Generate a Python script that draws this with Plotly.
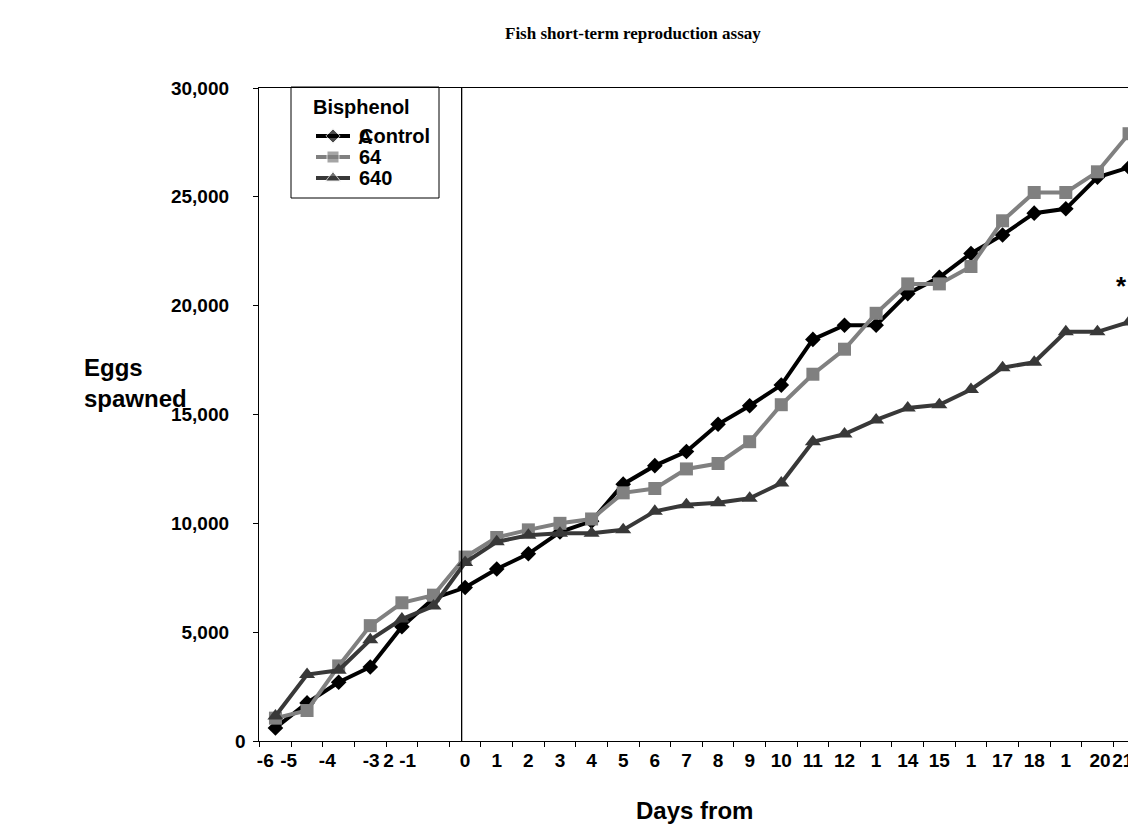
import plotly.graph_objects as go

# days of the assay (pre-exposure -6..-1, exposure 0..21)
DAYS = list(range(-6, 22))
TICK_TEXT = ['-6', '-5', '-4', '-3', '2', '-1',
             '0', '1', '2', '3', '4', '5', '6', '7', '8', '9', '10',
             '11', '12', '1', '14', '15', '1', '17', '18', '1', '20', '21']

CONTROL = [600, 1750, 2700, 3400, 5250, 6550,
           7050, 7900, 8600, 9600, 10100, 11800, 12650, 13300, 14550, 15400,
           16350, 18450, 19100, 19100, 20550, 21300, 22400, 23250, 24250,
           24450, 25900, 26350]
BPA_64 = [1050, 1400, 3450, 5300, 6350, 6700,
          8450, 9350, 9700, 10000, 10200, 11400, 11600, 12500, 12750, 13750,
          15450, 16850, 18000, 19650, 21000, 21000, 21800, 23900, 25200,
          25200, 26150, 27900]
BPA_640 = [1150, 3050, 3250, 4650, 5600, 6200,
           8200, 9150, 9450, 9550, 9550, 9700, 10550, 10850, 10950, 11150,
           11850, 13750, 14100, 14750, 15300, 15450, 16150, 17150, 17400,
           18800, 18800, 19250]

SERIES = [('Control', CONTROL, '#000000', 'diamond', 12),
          ('64', BPA_64, '#808080', 'square', 13),
          ('640', BPA_640, '#383838', 'triangle-up', 14)]

# small label shifts so pre-exposure labels sit like in the original
LABEL_SHIFT = [-0.32, -0.58, -0.36, 0.03, -0.42, -0.82] + [0] * 20 + [0.08, -0.2]

FONT = 'Liberation Sans, Arial, sans-serif'

# plot area in page pixels, used to place the hand-made legend
PL, PR, PT, PB = 259, 1136, 88, 741


def px(x):
    return (x - PL) / (PR - PL)


def py(y):
    return (PB - y) / (PB - PT)


x_idx = list(range(len(DAYS)))

fig = go.Figure()
for name, vals, color, sym, size in SERIES:
    fig.add_trace(go.Scatter(x=x_idx, y=vals, name=name, mode='lines+markers',
                             line=dict(color=color, width=4),
                             marker=dict(symbol=sym, size=size, color=color),
                             showlegend=False))

# legend drawn by hand so its rows are as tight as the original
fig.add_shape(type='rect', xref='paper', yref='paper',
              x0=px(291), x1=px(439), y0=py(198), y1=py(87),
              line=dict(color='black', width=1), fillcolor='white', layer='below')
for k, (name, vals, color, sym, size) in enumerate(SERIES):
    yy = py(136 + 21 * k)
    fig.add_trace(go.Scatter(x=[px(316), px(333), px(350)], y=[yy] * 3,
                             xaxis='x2', yaxis='y2', mode='lines+markers',
                             line=dict(color=color, width=4),
                             marker=dict(symbol=sym, size=[0, size - 1, 0], color=color),
                             showlegend=False, hoverinfo='skip', cliponaxis=False))
    fig.add_annotation(xref='paper', yref='paper', x=px(357), y=yy, text=name,
                       xanchor='left', yanchor='middle', showarrow=False,
                       font=dict(size=20, weight='bold'))

fig.add_shape(type='line', xref='x', yref='paper', x0=5.89, x1=5.89, y0=0, y1=1,
              line=dict(color='black', width=1.3))

# page body has an 8px margin, so the figure is a bit smaller than the window
fig.update_layout(
    width=1128, height=821,
    margin=dict(l=251, r=0, t=80, b=88),
    plot_bgcolor='white', paper_bgcolor='white',
    font=dict(family=FONT, color='black'),
    title=dict(text='<b>Fish short-term reproduction assay</b>',
               font=dict(family='Liberation Serif, Times New Roman, serif', size=17),
               x=0.554, xref='container', y=1 - 25 / 821, yref='container',
               xanchor='center', yanchor='middle'),
    xaxis2=dict(overlaying='x', range=[0, 1], visible=False),
    yaxis2=dict(overlaying='y', range=[0, 1], visible=False),
)

fig.layout.xaxis.update(range=[-0.52, 27.22], showgrid=False, zeroline=False,
                        showline=True, linecolor='black', linewidth=1.3, mirror=True,
                        tickvals=[i + s for i, s in zip(x_idx, LABEL_SHIFT)],
                        ticktext=TICK_TEXT, ticks='', tickangle=0,
                        ticklabeloverflow='allow', ticklabelstandoff=2,
                        tickfont=dict(size=19, weight='bold'),
                        minor=dict(tickvals=[i - 0.5 for i in range(len(DAYS) + 1)],
                                   ticks='outside', ticklen=5, tickcolor='black',
                                   showgrid=False))

fig.layout.yaxis.update(range=[0, 30000], showgrid=False, zeroline=False,
                        showline=True, linecolor='black', linewidth=1.3,
                        tickvals=[0, 5000, 10000, 15000, 20000, 25000, 30000],
                        ticktext=['', '5,000', '10,000', '15,000', '20,000', '25,000', '30,000'],
                        ticks='outside', ticklen=5, tickcolor='black',
                        ticklabelstandoff=20,
                        tickfont=dict(size=19, weight='bold'))

annos = [
    dict(text='0', x=-0.013, y=0, xanchor='right', yanchor='middle',
         font=dict(size=19, weight='bold')),
    dict(text='Eggs<br>spawned', x=-0.2018, y=0.548, xanchor='left', yanchor='middle',
         align='left', font=dict(size=24, weight='bold')),
    dict(text='Days from', x=0.497, y=-0.1057, xanchor='center', yanchor='middle',
         font=dict(size=24, weight='bold')),
    dict(text='*', x=0.984, y=0.697, xanchor='center', yanchor='middle',
         font=dict(size=26, weight='bold')),
    dict(text='Bisphenol', x=px(311), y=py(107), xanchor='left', yanchor='middle',
         font=dict(size=20, weight='bold')),
    dict(text='A', x=px(356), y=py(137), xanchor='left', yanchor='middle',
         font=dict(size=20, weight='bold')),
]
for a in annos:
    fig.add_annotation(xref='paper', yref='paper', showarrow=False, **a)

fig.write_html('out.html')
